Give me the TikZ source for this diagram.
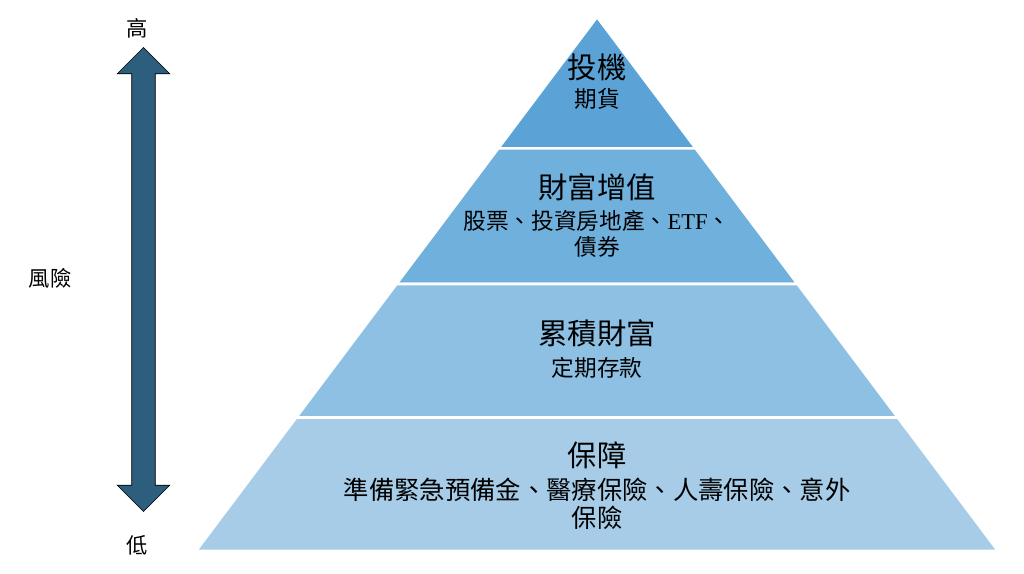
\documentclass[tikz,border=0pt]{standalone}
\usepackage{fontspec}
\setmainfont{Liberation Serif}
\newfontfamily\cjk{Noto Sans CJK TC}
\usepackage{tikz}
\usetikzlibrary{positioning, calc, shapes.arrows}
\definecolor{tierTop}{HTML}{5BA3D6}
\definecolor{tierGrow}{HTML}{70B0DC}
\definecolor{tierSave}{HTML}{8DC0E2}
\definecolor{tierBase}{HTML}{A6CCE7}
\definecolor{riskBlue}{HTML}{2D5E7E}
\tikzset{
    tier/.style={draw=white, line width=1.9pt},
    tiertitle/.style={font=\cjk\fontsize{22}{26}\selectfont, inner sep=0pt},
    tierbody/.style={font=\cjk\fontsize{17}{19.5}\selectfont, align=center, inner sep=0pt},
    axislabel/.style={font=\cjk\fontsize{16}{18}\selectfont, inner sep=0pt},
    riskarrow/.style={double arrow, rotate=90, draw=black, line width=0.5pt, fill=riskBlue,
      minimum height=348pt, minimum width=39pt, inner xsep=0pt, inner ysep=8.6pt,
      double arrow head extend=10.9pt, double arrow tip angle=90},
}
\begin{document}
\begin{tikzpicture}[x=0.75pt, y=-0.75pt]
    \useasboundingbox (0,0) rectangle (1024,574);

    % pyramid corners
    \coordinate (apex) at (597,17);
    \coordinate (bl) at (196,551);
    \coordinate (br) at (998,551);
    \coordinate (l1) at ($(apex)!0.246!(bl)$);
    \coordinate (r1) at ($(apex)!0.246!(br)$);
    \coordinate (l2) at ($(apex)!0.5!(bl)$);
    \coordinate (r2) at ($(apex)!0.5!(br)$);
    \coordinate (l3) at ($(apex)!0.75!(bl)$);
    \coordinate (r3) at ($(apex)!0.75!(br)$);

    \filldraw[tier, fill=tierTop] (apex) -- (r1) -- (l1) -- cycle;
    \filldraw[tier, fill=tierGrow] (l1) -- (r1) -- (r2) -- (l2) -- cycle;
    \filldraw[tier, fill=tierSave] (l2) -- (r2) -- (r3) -- (l3) -- cycle;
    \filldraw[tier, fill=tierBase] (l3) -- (r3) -- (br) -- (bl) -- cycle;

    \node[tiertitle] (spec) at (597,67) {投機};
    \node[tierbody] (specdetail) at (597,99) {期貨};

    \node[tiertitle] (growth) at (597,187) {財富增值};
    \node[tierbody] (growthdetail) at (597,233.5) {股票、投資房地產、{\rmfamily ETF}、\\債券};

    \node[tiertitle] (accum) at (597,333) {累積財富};
    \node[tierbody] (accumdetail) at (597,368) {定期存款};

    \node[tiertitle] (protect) at (597,455) {保障};
    \node[tierbody, font=\cjk\fontsize{19}{21}\selectfont] (protectdetail) at (597,504)
      {準備緊急預備金、醫療保險、人壽保險、意外\\保險};

    % risk axis
    \node[riskarrow] (risk) at (143.5,279.5) {};
    \node[axislabel] (high) at (137,28) {高};
    \node[axislabel] (low) at (137,545) {低};
    \node[axislabel] (risklabel) at (50,278) {風險};
\end{tikzpicture}
\end{document}
